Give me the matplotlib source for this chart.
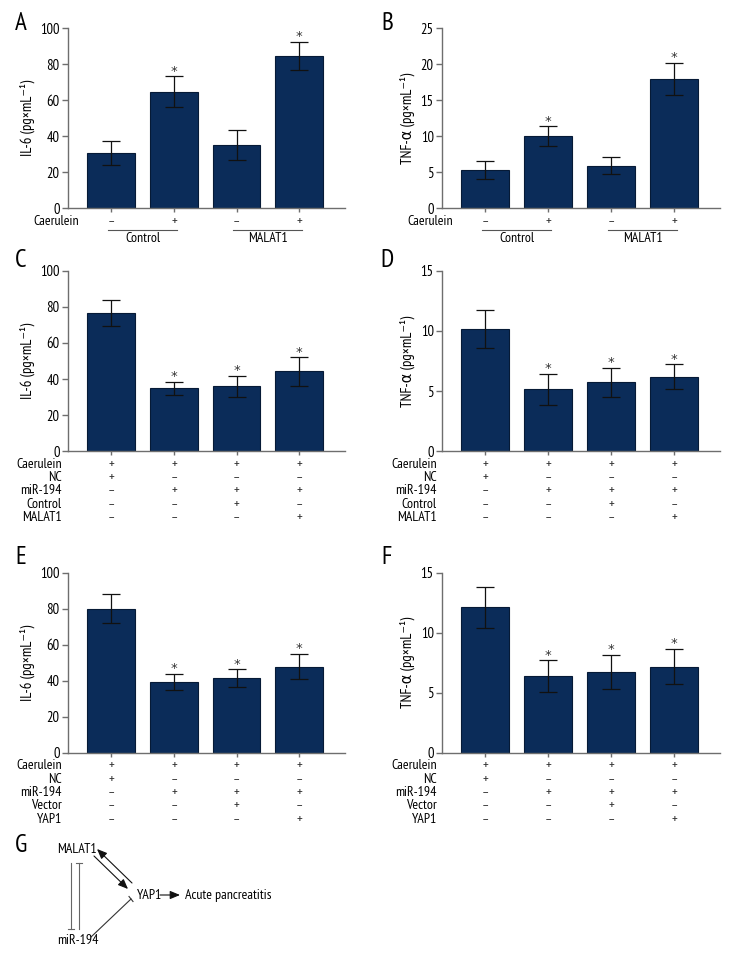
import matplotlib
matplotlib.use('Agg')
import matplotlib.pyplot as plt
import numpy as np

plt.rcParams['font.family'] = ['PT Sans Narrow', 'DejaVu Sans']

# data
il6_a = [30.6, 64.8, 35.2, 84.6]
il6_a_err = [6.8, 8.5, 8.5, 8.0]
tnf_b = [5.3, 10.0, 5.9, 18.0]
tnf_b_err = [1.2, 1.4, 1.2, 2.2]
il6_c = [76.9, 34.9, 35.9, 44.2]
il6_c_err = [7.2, 3.7, 5.9, 7.9]
tnf_d = [10.15, 5.13, 5.74, 6.18]
tnf_d_err = [1.6, 1.3, 1.2, 1.05]
il6_e = [79.9, 39.5, 41.3, 47.8]
il6_e_err = [8.1, 4.4, 5.0, 7.0]
tnf_f = [12.13, 6.38, 6.74, 7.18]
tnf_f_err = [1.7, 1.33, 1.44, 1.47]

stars_ab = [False, True, False, True]
stars_cf = [False, True, True, True]

rows_ab = [('Caerulein', '–+–+')]
rows_cd = [('Caerulein', '++++'), ('NC', '+–––'), ('miR-194', '–+++'),
           ('Control', '––+–'), ('MALAT1', '–––+')]
rows_ef = [('Caerulein', '++++'), ('NC', '+–––'), ('miR-194', '–+++'),
           ('Vector', '––+–'), ('YAP1', '–––+')]
groups_ab = [('Control', 0, 1), ('MALAT1', 2, 3)]

il6_label = 'IL-6 (pg×mL⁻¹)'
tnf_label = 'TNF-α (pg×mL⁻¹)'

W, H = 744, 972
bar_color = '#0b2c59'
spine_color = '#6e6e6e'
fs = 10.5
rfs = 10

fig = plt.figure(figsize=(W / 100, H / 100), dpi=100)


def make_axes(left, right, zero_y, height=180):
    return fig.add_axes([left / W, (H - zero_y) / H, (right - left) / W, height / H])


def bar_panel(ax, vals, errs, stars, ymax, ystep, ylabel, rows, row_x, groups=None):
    x = np.arange(len(vals))
    ax.bar(x, vals, width=0.76, color=bar_color, edgecolor='#061a36', linewidth=0.8, zorder=2)
    ax.errorbar(x, vals, yerr=errs, fmt='none', ecolor='#111111', elinewidth=0.9,
                capsize=6.5, capthick=0.9, zorder=3)
    for xi, v, e, s in zip(x, vals, errs, stars):
        if s:
            ax.annotate('*', (xi, v + e), xytext=(0, -1), textcoords='offset points',
                        ha='center', va='bottom', fontsize=9.5, color='#333333',
                        family='DejaVu Sans')
    ax.set_xlim(-0.69, 3.73)
    ax.set_ylim(0, ymax)
    ax.set_yticks(np.arange(0, ymax + 0.01, ystep))
    ax.set_xticks(x)
    ax.set_xticklabels([])
    for sp in ['top', 'right']:
        ax.spines[sp].set_visible(False)
    for sp in ['left', 'bottom']:
        ax.spines[sp].set_color(spine_color)
        ax.spines[sp].set_linewidth(1.0)
    ax.tick_params(axis='y', length=4, width=1, color=spine_color, labelsize=fs, pad=2)
    ax.tick_params(axis='x', length=3, width=1, color=spine_color)
    ax.set_ylabel(ylabel, fontsize=fs, labelpad=4)
    tr = ax.get_xaxis_transform()
    for i, (name, signs) in enumerate(rows):
        yy = -(13 + 13.4 * i) / 180
        ax.text(row_x, yy, name, transform=tr, ha='right', va='center', fontsize=rfs)
        for xi, sg in zip(x, signs):
            ax.text(xi, yy, sg, transform=tr, ha='center', va='center', fontsize=rfs,
                    color='#333333')
    if groups:
        for name, a, b in groups:
            ax.plot([a - 0.05, b + 0.05], [-21.5 / 180] * 2, transform=tr, color='#555555',
                    linewidth=0.8, clip_on=False)
            ax.text((a + b) / 2, -30.5 / 180, name, transform=tr, ha='center', va='center',
                    fontsize=rfs)


ax_a = make_axes(68, 345, 208.3)
bar_panel(ax_a, il6_a, il6_a_err, stars_ab, 100, 20, il6_label, rows_ab, -0.51, groups_ab)
ax_b = make_axes(442, 720, 208.3)
bar_panel(ax_b, tnf_b, tnf_b_err, stars_ab, 25, 5, tnf_label, rows_ab, -0.52, groups_ab)
ax_c = make_axes(68, 345, 451)
bar_panel(ax_c, il6_c, il6_c_err, stars_cf, 100, 20, il6_label, rows_cd, -0.79)
ax_d = make_axes(442, 720, 451)
bar_panel(ax_d, tnf_d, tnf_d_err, stars_cf, 15, 5, tnf_label, rows_cd, -0.77)
ax_e = make_axes(68, 345, 752.7)
bar_panel(ax_e, il6_e, il6_e_err, stars_cf, 100, 20, il6_label, rows_ef, -0.79)
ax_f = make_axes(442, 720, 752.7)
bar_panel(ax_f, tnf_f, tnf_f_err, stars_cf, 15, 5, tnf_label, rows_ef, -0.77)

# overlay in pixel coordinates for panel letters and the scheme in G
ov = fig.add_axes([0, 0, 1, 1], zorder=10)
ov.set_xlim(0, W)
ov.set_ylim(H, 0)
ov.axis('off')
ov.patch.set_alpha(0)

for letter, lx, ly in [('A', 21, 24), ('B', 387, 24), ('C', 21, 260), ('D', 387, 260),
                       ('E', 21, 557), ('F', 387, 557), ('G', 21, 845)]:
    ov.text(lx, ly, letter, ha='center', va='center', fontsize=18)

ov.text(57, 849, 'MALAT1', ha='left', va='center', fontsize=rfs)
ov.text(137, 895, 'YAP1', ha='left', va='center', fontsize=rfs)
ov.text(185, 895, 'Acute pancreatitis', ha='left', va='center', fontsize=rfs)
ov.text(57, 940, 'miR-194', ha='left', va='center', fontsize=rfs)

arrow_kw = dict(arrowstyle='-|>,head_length=0.6,head_width=0.25', color='#111111', lw=0.8,
                shrinkA=0, shrinkB=0)
ov.annotate('', xy=(128, 889), xytext=(94, 856), arrowprops=arrow_kw)
ov.annotate('', xy=(97, 849), xytext=(132, 883), arrowprops=arrow_kw)
ov.annotate('', xy=(180, 895), xytext=(160, 895), arrowprops=arrow_kw)

# inhibition lines
ov.plot([70.7, 70.7], [863, 929], color='#666666', lw=0.8)
ov.plot([67.7, 73.7], [929, 929], color='#666666', lw=0.8)
ov.plot([79.3, 79.3], [863, 929], color='#666666', lw=0.8)
ov.plot([76.3, 82.3], [863, 863], color='#666666', lw=0.8)
ov.plot([91, 131], [937, 899], color='#333333', lw=0.8)
ov.plot([129, 133], [896.5, 901.5], color='#333333', lw=0.8)

fig.savefig('out.png', dpi=100)
